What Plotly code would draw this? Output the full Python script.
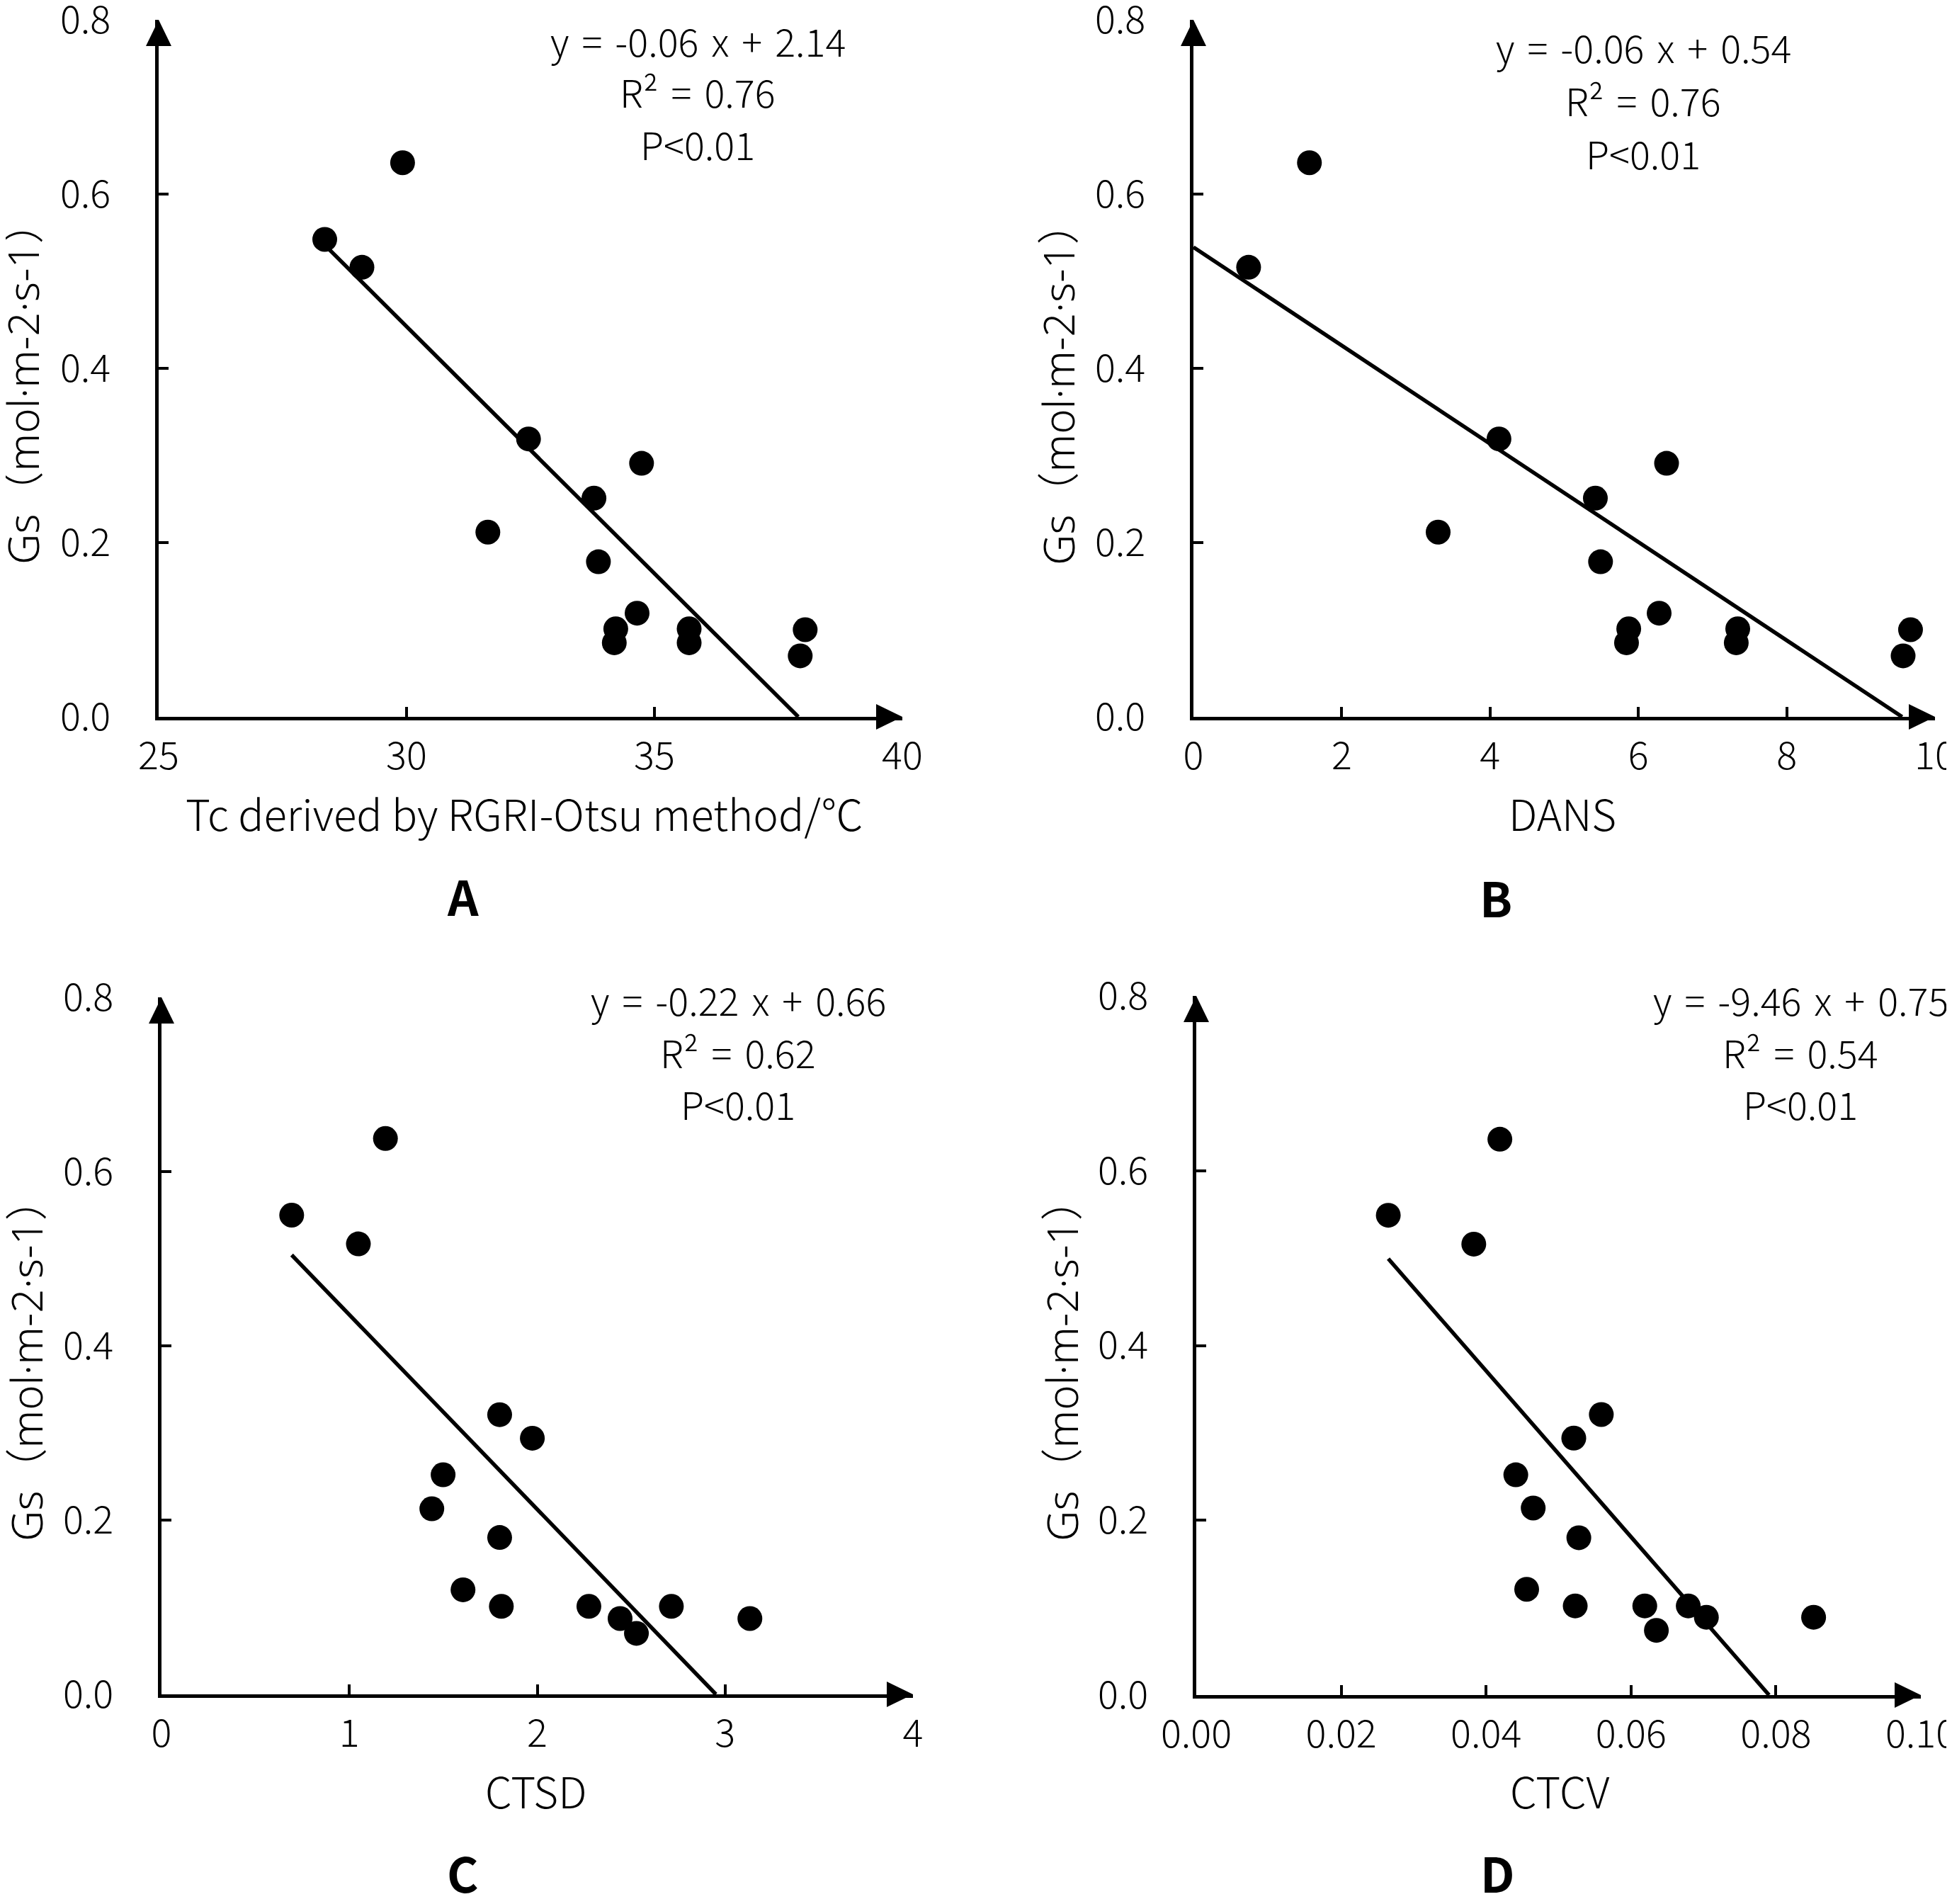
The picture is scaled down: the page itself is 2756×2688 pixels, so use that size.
import plotly.graph_objects as go

W, H = 2756, 2688
FONT = "Noto Sans CJK SC"
FONT_Y = "Noto Sans, Noto Sans CJK SC"

# ---- data ----
# A: Tc derived by RGRI-Otsu method
tc_x = [28.35, 29.10, 29.92, 32.46, 31.64, 33.78, 34.74, 33.87, 34.22, 34.19, 34.65, 35.70, 35.70, 38.04, 37.94]
tc_gs = [0.548, 0.516, 0.636, 0.319, 0.212, 0.251, 0.291, 0.178, 0.101, 0.085, 0.119, 0.101, 0.085, 0.100, 0.070]

# B: DANS
dans_x = [0.744, 1.564, 3.30, 4.12, 5.42, 5.49, 5.87, 5.84, 6.28, 6.38, 7.34, 7.32, 9.57, 9.67]
dans_gs = [0.516, 0.636, 0.212, 0.319, 0.251, 0.178, 0.101, 0.085, 0.119, 0.291, 0.101, 0.085, 0.070, 0.100]

# C: CTSD
ctsd_x = [0.693, 1.048, 1.192, 1.800, 1.974, 1.499, 1.439, 1.800, 1.605, 1.809, 2.275, 2.441, 2.528, 2.714, 3.132]
ctsd_gs = [0.550, 0.517, 0.638, 0.321, 0.294, 0.252, 0.213, 0.180, 0.120, 0.101, 0.101, 0.087, 0.070, 0.101, 0.087]

# D: CTCV
ctcv_x = [0.0265, 0.0383, 0.0419, 0.0559, 0.0521, 0.0441, 0.0465, 0.0528, 0.0456, 0.0523, 0.0619, 0.0635, 0.0679, 0.0704, 0.0852]
ctcv_gs = [0.549, 0.516, 0.636, 0.321, 0.294, 0.252, 0.214, 0.180, 0.121, 0.102, 0.102, 0.074, 0.102, 0.089, 0.089]

# linear trend lines (slope, intercept, start x, last x)
trend_slope = [-0.0567, -0.0564, -0.2233, -9.50]
trend_icpt = [2.149, 0.539, 0.659, 0.751]
trend_x0 = [28.35, 0.0, 0.693, 0.0265]
trend_x1 = [38.04, 9.67, 3.132, 0.0852]

eq_text = [
    ["y = -0.06 x + 2.14", "R² = 0.76", "P<0.01"],
    ["y = -0.06 x + 0.54", "R² = 0.76", "P<0.01"],
    ["y = -0.22 x + 0.66", "R² = 0.62", "P<0.01"],
    ["y = -9.46 x + 0.75", "R² = 0.54", "P<0.01"],
]
x_titles = ["Tc derived by RGRI-Otsu method/℃", "DANS", "CTSD", "CTCV"]
y_title = "Gs（mol·m-2·s-1）"
letters = ["A", "B", "C", "D"]

x_ranges = [[25, 40], [0, 10], [0, 4], [0, 0.1]]
x_tickvals = [[25, 30, 35, 40], [0, 2, 4, 6, 8, 10], [0, 1, 2, 3, 4],
              [0, 0.02, 0.04, 0.06, 0.08, 0.10]]
x_ticktext = [["25", "30", "35", "40"], ["0", "2", "4", "6", "8", "10"],
              ["0", "1", "2", "3", "4"],
              ["0.00", "0.02", "0.04", "0.06", "0.08", "0.10"]]
y_tickvals = [0, 0.2, 0.4, 0.6, 0.8]
y_ticktext = ["0.0", "0.2", "0.4", "0.6", "0.8"]

xs = [tc_x, dans_x, ctsd_x, ctcv_x]
ys = [tc_gs, dans_gs, ctsd_gs, ctcv_gs]

# ---- layout geometry (pixels) ----
# plot boxes: left, right, top, bottom
boxes = [(216, 1266, 20, 1004), (1677, 2724, 20, 1004),
         (220, 1281, 1400, 2384), (1681, 2704, 1398, 2385)]
eq_pos = [(977, [48, 121, 194]), (2312, [58, 133, 207]),
          (1034, [1402, 1476, 1549]), (2534, [1402, 1476, 1549])]
xt_pos = [(732, 1138), (2198, 1138), (748, 2518), (2194, 2518)]
yt_pos = [(24, 533), (1486, 533), (29, 1912), (1491, 1912)]
letter_pos = [(645, 1255), (2104, 1258), (645, 2634), (2106, 2634)]


def px(x):
    return x / W


def py(y):
    return 1 - y / H


fig = go.Figure()
layout = dict(width=W, height=H, margin=dict(l=0, r=0, t=0, b=0, pad=0),
              paper_bgcolor="white", plot_bgcolor="white", showlegend=False)
shapes = []
annotations = []

for i in range(4):
    sfx = "" if i == 0 else str(i + 1)
    xa, ya = "x" + sfx, "y" + sfx
    m, b = trend_slope[i], trend_icpt[i]
    xe = min(trend_x1[i], -b / m)
    fig.add_trace(go.Scatter(x=[trend_x0[i], xe], y=[m * trend_x0[i] + b, m * xe + b],
                             mode="lines", line=dict(color="black", width=5.5),
                             xaxis=xa, yaxis=ya, hoverinfo="skip"))
    fig.add_trace(go.Scatter(x=xs[i], y=ys[i], mode="markers",
                             marker=dict(color="black", size=35),
                             xaxis=xa, yaxis=ya))

    l, r, t, btm = boxes[i]
    common = dict(showline=True, linecolor="black", linewidth=5, ticks="inside",
                  ticklen=14, tickwidth=4, tickcolor="black", showgrid=False,
                  zeroline=False, automargin=False, ticklabeloverflow="allow",
                  tickfont=dict(family=FONT, size=54, color="black", weight=300))
    layout["xaxis" + sfx] = dict(domain=[px(l), px(r)], anchor=ya, range=x_ranges[i],
                                 tickvals=x_tickvals[i], ticktext=x_ticktext[i],
                                 ticklabelstandoff=4, **common)
    layout["yaxis" + sfx] = dict(domain=[py(btm), py(t)], anchor=xa, range=[0, 0.8],
                                 tickvals=y_tickvals, ticktext=y_ticktext,
                                 ticklabelstandoff=52, **common)

    # arrow heads at the axis ends
    shapes.append(dict(type="path", xref="paper", yref="paper", fillcolor="black",
                       line=dict(width=0),
                       path=f"M {px(r)} {py(btm)} L {px(r - 37)} {py(btm - 18)} "
                            f"L {px(r - 37)} {py(btm + 18)} Z"))
    shapes.append(dict(type="path", xref="paper", yref="paper", fillcolor="black",
                       line=dict(width=0),
                       path=f"M {px(l)} {py(t)} L {px(l - 18)} {py(t + 37)} "
                            f"L {px(l + 18)} {py(t + 37)} Z"))

    ex, eys = eq_pos[i]
    for txt, ey in zip(eq_text[i], eys):
        annotations.append(dict(text=txt.replace(" ", "\u2004"), x=px(ex), y=py(ey),
                                xref="paper", yref="paper",
                                xanchor="center", yanchor="middle", showarrow=False,
                                font=dict(family=FONT, size=54, color="black", weight=300)))
    annotations.append(dict(text=x_titles[i], x=px(xt_pos[i][0]), y=py(xt_pos[i][1]),
                            xref="paper", yref="paper", xanchor="center", yanchor="middle",
                            showarrow=False,
                            font=dict(family=FONT, size=60, color="black", weight=300)))
    annotations.append(dict(text=y_title, x=px(yt_pos[i][0]), y=py(yt_pos[i][1]),
                            xref="paper", yref="paper", xanchor="center", yanchor="middle",
                            textangle=-90, showarrow=False,
                            font=dict(family=FONT_Y, size=60, color="black", weight=300)))
    annotations.append(dict(text="<b>" + letters[i] + "</b>", x=px(letter_pos[i][0]),
                            y=py(letter_pos[i][1]), xref="paper", yref="paper",
                            xanchor="center", yanchor="middle", showarrow=False,
                            font=dict(family=FONT, size=68, color="black")))

layout["shapes"] = shapes
layout["annotations"] = annotations
fig.update_layout(**layout)

fig.write_html("out.html")
